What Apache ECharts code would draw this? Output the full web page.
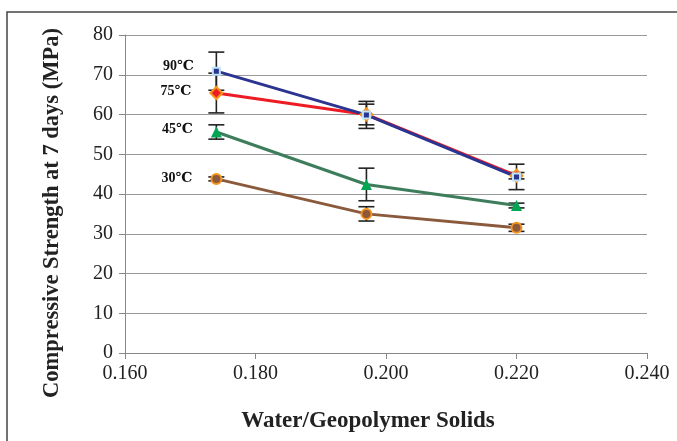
<!DOCTYPE html>
<html><head><meta charset="utf-8">
<script src="https://cdn.jsdelivr.net/npm/echarts@6/dist/echarts.min.js"></script>
<style>html,body{margin:0;padding:0;background:#fff}#c{width:677px;height:441px}</style>
</head><body><div id="c"></div>
<script>
const xValues = [0.174, 0.197, 0.220];
const xTicks = ['0.160','0.180','0.200','0.220','0.240'];
const seriesNames = ['90℃','75℃','45℃','30℃'];
const xTitle = 'Water/Geopolymer Solids';
const yTitle = 'Compressive Strength at 7 days (MPa)';
const s90 = [70.9, 59.9, 44.3];
const s75 = [65.4, 60.0, 44.6];
const s45 = [55.6, 42.4, 37.1];
const s30 = [43.8, 35.0, 31.5];
const e90 = [4.8, 3.4, 3.2];
const e75 = [5.0, 2.6, 0.8];
const e45 = [1.8, 4.1, 0.6];
const e30 = [0.5, 1.8, 0.9];

const chart = echarts.init(document.getElementById('c'));
const font = '"Liberation Serif", "DejaVu Serif", serif';

function pts(vals){ return xValues.map((x,i)=>[x, vals[i]]); }
function errs(vals, e){ return xValues.map((x,i)=>[x, vals[i]-e[i], vals[i]+e[i]]); }

function errSeries(vals, e){
  return {
    type:'custom', z:5, silent:true,
    data: errs(vals, e),
    renderItem: function(params, api){
      const x = api.value(0);
      const lo = api.coord([x, api.value(1)]);
      const hi = api.coord([x, api.value(2)]);
      const w = 8;
      const st = {stroke:'#222', lineWidth:1.6};
      return {type:'group', children:[
        {type:'line', shape:{x1:lo[0],y1:lo[1],x2:hi[0],y2:hi[1]}, style:st},
        {type:'line', shape:{x1:lo[0]-w,y1:lo[1],x2:lo[0]+w,y2:lo[1]}, style:st},
        {type:'line', shape:{x1:hi[0]-w,y1:hi[1],x2:hi[0]+w,y2:hi[1]}, style:st}
      ]};
    }
  };
}

function lineSeries(name, vals, color, symbol, symSize, itemStyle, labelOffset){
  return {
    type:'line', name:name, z:10,
    data: pts(vals).map((p,i)=> i===0 ? {value:p, label:{show:true, formatter:name, position:'left', distance:18, offset:labelOffset, color:'#111', fontFamily:font, fontWeight:'bold', fontSize:14}} : p),
    lineStyle:{color:color, width:3},
    symbol:symbol, symbolSize:symSize, itemStyle:itemStyle, showSymbol:true
  };
}

chart.setOption({
  animation:false,
  graphic:[
    {type:'rect', shape:{x:7,y:12,width:720,height:520}, style:{fill:'none', stroke:'#444', lineWidth:1.5}, z:-1},
    {type:'text', x:52, y:213, rotation:Math.PI/2, style:{text:yTitle, font:'bold 22.5px ' + font, fill:'#222', align:'center', verticalAlign:'middle'}},
    {type:'text', x:368, y:421, style:{text:xTitle, font:'bold 23px ' + font, fill:'#222', align:'center', verticalAlign:'middle'}}
  ],
  grid:{left:125, right:30, top:35, bottom:88},
  xAxis:{
    type:'value', min:0.16, max:0.24, interval:0.02,
    axisLine:{lineStyle:{color:'#888', width:1}},
    axisTick:{show:true, length:6, lineStyle:{color:'#888'}},
    axisLabel:{fontFamily:font, fontSize:20, color:'#222', margin:11, formatter:v=>v.toFixed(3)},
    splitLine:{show:false}
  },
  yAxis:{
    type:'value', min:0, max:80, interval:10,
    axisLine:{show:true, lineStyle:{color:'#888', width:1}},
    axisTick:{show:true, length:6, lineStyle:{color:'#888'}},
    axisLabel:{fontFamily:font, fontSize:20, color:'#222', margin:12},
    splitLine:{show:true, lineStyle:{color:'#999', width:1}}
  },
  series:[
    errSeries(s90, e90), errSeries(s75, e75), errSeries(s45, e45), errSeries(s30, e30),
    lineSeries(seriesNames[3], s30, '#8B5A3C', 'circle', 10, {color:'#8B5A3C', borderColor:'#F7941D', borderWidth:2}, [0,-1]),
    lineSeries(seriesNames[2], s45, '#3E7D5C', 'triangle', 11, {color:'#00A651'}, [0,-3]),
    lineSeries(seriesNames[1], s75, '#ED1C24', 'diamond', 12, {color:'#ED1C24', borderColor:'#F7941D', borderWidth:2}, [0,-2]),
    lineSeries(seriesNames[0], s90, '#2B3491', 'rect', 7, {color:'#2B3491', borderColor:'#BFE3F7', borderWidth:2}, [0,-5])
  ]
});
</script></body></html>
